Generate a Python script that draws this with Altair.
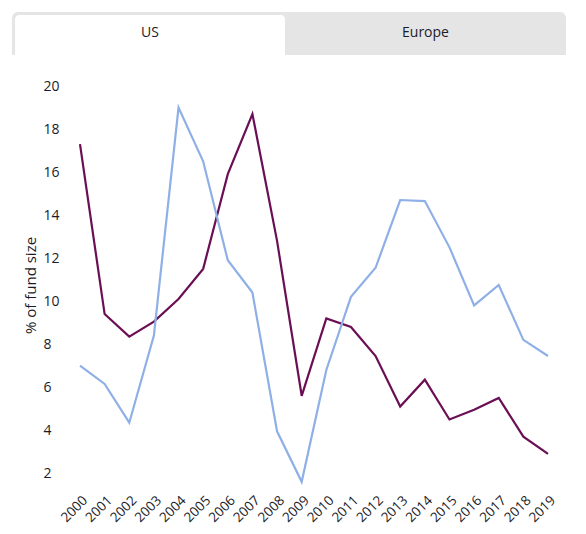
import altair as alt
import pandas as pd

years = [str(y) for y in range(2000, 2020)]
series_a = [17.3, 9.4, 8.35, 9.05, 10.1, 11.5, 15.9, 18.7, 12.8, 5.6,
            9.2, 8.8, 7.45, 5.1, 6.35, 4.5, 4.95, 5.5, 3.7, 2.9]
series_b = [7.0, 6.15, 4.35, 8.4, 19.0, 16.5, 11.9, 10.4, 3.95, 1.6,
            6.8, 10.2, 11.55, 14.7, 14.65, 12.5, 9.8, 10.75, 8.2, 7.45]
tabs = ["US", "Europe"]
y_ticks = [2, 4, 6, 8, 10, 12, 14, 16, 18, 20]

FONT = "Open Sans"
TEXT = "#1c1c28"

df = pd.concat([
    pd.DataFrame({"year": years, "value": series_a, "series": "a"}),
    pd.DataFrame({"year": years, "value": series_b, "series": "b"}),
])

# tab strip layout (fractions of the strip width)
tab_df = pd.DataFrame({"tab": tabs, "start": [0.0055, 0.4928], "end": [0.4928, 1.0],
                       "active": [True, False]})

lines = (
    alt.Chart(df)
    .mark_line(strokeWidth=2.2)
    .encode(
        x=alt.X("year:O",
                scale=alt.Scale(type="point", padding=0),
                axis=alt.Axis(title=None, labelAngle=-45, ticks=False, domain=False,
                              labelPadding=9, labelFontSize=13.5, labelFont=FONT,
                              labelColor=TEXT)),
        y=alt.Y("value:Q",
                scale=alt.Scale(domain=[1.5, 20], nice=False, zero=False),
                axis=alt.Axis(values=y_ticks, grid=False, ticks=False, domain=False,
                              title="% of fund size", titleFont=FONT,
                              titleFontSize=15, titleFontWeight="normal",
                              titleColor=TEXT, titlePadding=5,
                              labelAlign="left", labelPadding=37,
                              labelFontSize=14, labelFont=FONT, labelColor=TEXT)),
        color=alt.Color("series:N",
                        scale=alt.Scale(domain=["a", "b"], range=["#6b0f55", "#8fb0e6"]),
                        legend=None),
    )
)

# tab header above the plot
tab_x = alt.Scale(domain=[0, 1], range=[-68, 486])
container = (
    alt.Chart(pd.DataFrame({"s": [0.0], "e": [1.0]}))
    .mark_rect(color="#e5e5e5", cornerRadiusTopLeft=6, cornerRadiusTopRight=6)
    .encode(x=alt.X("s:Q", scale=tab_x, axis=None),
            x2=alt.X2("e:Q"),
            y=alt.value(-74), y2=alt.value(-31))
)
active_tab = (
    alt.Chart(tab_df)
    .transform_filter("datum.active")
    .mark_rect(color="white", cornerRadiusTopLeft=4, cornerRadiusTopRight=4)
    .encode(x=alt.X("start:Q", scale=tab_x, axis=None),
            x2=alt.X2("end:Q"),
            y=alt.value(-71), y2=alt.value(-31))
)
tab_text = (
    alt.Chart(tab_df)
    .transform_calculate(mid="(datum.start + datum.end) / 2")
    .mark_text(font=FONT, fontSize=14, color=TEXT, baseline="middle")
    .encode(x=alt.X("mid:Q", scale=tab_x, axis=None),
            y=alt.value(-53), text="tab:N")
)

chart = (
    alt.layer(container, active_tab, tab_text, lines)
    .resolve_scale(x="independent")
    .properties(width=468, height=398, autosize=alt.AutoSizeParams(type="none"),
                padding={"left": 72, "top": 78, "right": 20, "bottom": 50})
    .configure_view(stroke=None)
)

chart.save("out.html", embed_options={"renderer": "svg", "actions": False})
